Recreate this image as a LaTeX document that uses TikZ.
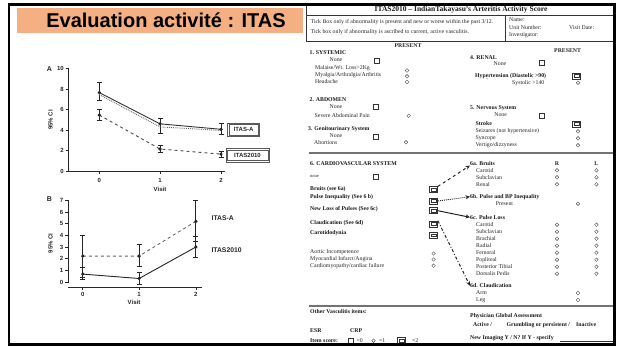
\documentclass[tikz,border=0pt]{standalone}
\usepackage{fontspec}
\setmainfont{Liberation Serif}
\setsansfont{Liberation Sans}
\usetikzlibrary{arrows.meta}
\definecolor{titleorange}{RGB}{244,176,131}
\newcommand\myebar[3]{\draw[eb] (#1,#2) -- (#1,#3); \draw[eb] ({#1-2.5},#2) -- ({#1+2.5},#2); \draw[eb] ({#1-2.5},#3) -- ({#1+2.5},#3);}
\begin{document}
\begin{tikzpicture}[x=1pt,y=-1pt,
  ft/.style={inner sep=0, anchor=west, text=black!85, font=\fontsize{5.8}{7}\selectfont},
  fb/.style={inner sep=0, anchor=west, text=black!90, font=\fontsize{5.8}{7}\selectfont\bfseries},
  fc/.style={inner sep=0, text=black!85, font=\fontsize{5.8}{7}\selectfont},
  sbox/.style={draw=black!80, line width=0.5pt, minimum size=5pt, inner sep=0},
  dbox/.style={draw=black!80, line width=0.5pt, minimum width=8pt, minimum height=6pt, inner sep=0,
    path picture={\draw[black!80, line width=0.4pt] ([shift={(1.6pt,-1.6pt)}]path picture bounding box.north west) rectangle ([shift={(-1.6pt,1.6pt)}]path picture bounding box.south east);}},
  lbox/.style={draw=black!65, line width=0.5pt, inner sep=0,
    path picture={\draw[black!65, line width=0.5pt] ([shift={(1.3pt,-1.3pt)}]path picture bounding box.north west) rectangle ([shift={(-1.3pt,1.3pt)}]path picture bounding box.south east);}},
  circ/.style={circle, draw=black!70, line width=0.4pt, minimum size=3.6pt, inner sep=0},
  sep/.style={draw=black!55, line width=1.6pt},
  ax/.style={line width=0.8pt, black!85},
  tl/.style={font=\sffamily\bfseries\fontsize{6}{7}\selectfont, inner sep=0, text=black!85},
  eb/.style={line width=1pt, black!85},
  arr/.style={line width=1pt, black!85, -{Stealth[length=4.5pt,width=4pt]}}
]
\useasboundingbox (0,0) rectangle (618,347);
\fill[white] (0,0) rectangle (618,347);

% ---------- title ----------
\node[fill=titleorange, minimum width=286pt, minimum height=25pt, anchor=north west, inner sep=0] (tbox) at (17,8) {};
\node[font=\sffamily\bfseries\fontsize{20}{22}\selectfont, inner sep=0] (ttext) at (166,20.5) {Evaluation activité : ITAS};

% ---------- chart A ----------
\draw[ax] (68.5,68.5) -- (68.5,171) -- (224.5,171);
\foreach \v/\yy in {10/68.5,8/89,6/109.5,4/130,2/150.5,0/171}{
  \draw[ax] (65.5,\yy) -- (68.5,\yy);
  \node[tl, anchor=east] (ya\v) at (64,\yy) {\v};
}
\foreach \v/\xx in {0/99.3,1/160,2/221}{
  \draw[ax] (\xx,171) -- (\xx,174);
  \node[tl] (xa\v) at (\xx,180) {\v};
}
\node[tl, font=\sffamily\bfseries\fontsize{7}{8}\selectfont] (labA) at (49.3,69) {A};
\node[tl] (visA) at (160,189) {Visit};
\node[tl, rotate=90] (ciA) at (50.5,120) {95\% CI};
% error bars A
\myebar{99.3}{82.85}{100.3}
\myebar{160}{118.2}{133.1}
\myebar{221}{123.3}{134.6}
\myebar{99.3}{110}{120.8}
\myebar{160}{145.9}{152.6}
\myebar{221}{151.5}{157.2}
% series A
\draw[line width=0.9pt, black!80] (99.3,92.6) -- (160,123.85) -- (221,129.3);
\draw[line width=0.9pt, black!60, densely dotted] (99.3,94.6) -- (160,126.9) -- (221,130.5);
\draw[line width=0.9pt, black!70, dashed] (99.3,115.1) -- (160,149) -- (221,154.1);
\foreach \p in {(99.3,92.6),(160,123.85),(221,129.3),(99.3,115.1),(160,149),(221,154.1)}{
  \fill[black!85] \p circle (1.8);
}
\node[lbox, minimum width=32pt, minimum height=13pt, tl] (itasaA) at (243.6,129.6) {ITAS-A};
\node[lbox, minimum width=43.5pt, minimum height=13.5pt, tl] (itas10A) at (247.5,155.3) {ITAS2010};

% ---------- chart B ----------
\draw[ax] (68.2,200.3) -- (68.2,283);
\draw[ax] (68.2,287.3) -- (201.8,287.3);
\foreach \v/\yy in {7/200.3,6/212,5/223.65,4/235.3,3/247,2/258.7,1/270.3,0/282}{
  \draw[ax] (65.2,\yy) -- (68.2,\yy);
  \node[tl, anchor=east] (yb\v) at (63.5,\yy) {\v};
}
\foreach \v/\xx in {0/82.8,1/139.1,2/195.9}{
  \draw[ax] (\xx,287.3) -- (\xx,290.3);
  \node[tl] (xb\v) at (\xx,294.5) {\v};
}
\node[tl, font=\sffamily\bfseries\fontsize{7}{8}\selectfont] (labB) at (49.3,198.7) {B};
\node[tl] (visB) at (134,302.7) {Visit};
\node[tl, rotate=90] (ciB) at (50.5,243.3) {95\% CI};
\myebar{82.8}{235.3}{277.3}
\myebar{139.1}{244.7}{266.8}
\myebar{195.9}{200.9}{241.7}
\myebar{82.8}{268}{279.7}
\myebar{139.1}{272.7}{284.3}
\myebar{195.9}{236.5}{257.5}
\draw[line width=0.9pt, black!60, dashed] (82.8,256.1) -- (139.1,256.1) -- (195.9,221.3);
\draw[line width=0.9pt, black!85] (82.8,274.1) -- (139.1,278.5) -- (195.9,247);
\foreach \p in {(82.8,256.1),(139.1,256.1),(195.9,221.3),(82.8,274.1),(139.1,278.5),(195.9,247)}{
  \fill[black!85] \p circle (1.8);
}
\node[tl, font=\sffamily\bfseries\fontsize{6.8}{8}\selectfont] (itasaB) at (222.7,218.3) {ITAS-A};
\node[tl, font=\sffamily\bfseries\fontsize{6.8}{8}\selectfont] (itas10B) at (226.6,250) {ITAS2010};

% ---------- form header ----------
\draw[black!80, line width=0.6pt] (306.5,5) rectangle (614,41);
\draw[black!80, line width=0.6pt] (306.5,15) -- (614,15);
\draw[black!80, line width=0.6pt] (505.5,15) -- (505.5,41);
\node[inner sep=0, text=black!90, font=\fontsize{7.5}{8}\selectfont\bfseries] (ftitle) at (461,10) {ITAS2010 -- IndianTakayasu's Arteritis Activity Score};
\node[ft] (tick1) at (310.5,22) {Tick Box only if abnormality is present and new or worse within the past 3/12.};
\node[ft] (tick2) at (310.5,32.5) {Tick box only if abnormality is ascribed to current, active vasculitis.};
\node[ft] (name) at (509,19.5) {Name:};
\node[ft] (unit) at (509,27.5) {Unit Number:};
\node[ft] (vdate) at (569,27.5) {Visit Date:};
\node[ft] (invest) at (509,35.5) {Investigator:};

% ---------- left column ----------
\node[fc, font=\fontsize{5.8}{7}\selectfont\bfseries] (pres1) at (408,46) {PRESENT};
\node[fb] (sys) at (309.5,52.7) {1. SYSTEMIC};
\node[fc] (none1) at (336,59.3) {None};
\node[sbox] (bnone1) at (377,60.3) {};
\node[ft] (mal) at (315,68) {Malaise/Wt. Loss>2Kg};
\node[ft] (mya) at (315,75) {Myalgia/Arthralgia/Arthritis};
\node[ft] (head) at (315,82) {Headache};
\node[circ] (c1) at (407,70.5) {};
\node[circ] (c2) at (407,76.3) {};
\node[circ] (c3) at (407,82) {};

\node[fb] (abd) at (309.5,100) {2. ABDOMEN};
\node[fc] (none2) at (336,106.7) {None};
\node[sbox] (bnone2) at (375.6,107) {};
\node[ft] (sev) at (314.5,115.7) {Severe Abdominal Pain};
\node[circ] (c4) at (408.7,115.7) {};

\node[fb] (gen) at (308,129) {3. Genitourinary System};
\node[fc] (none3) at (336,135.7) {None};
\node[sbox] (bnone3) at (375.6,136.3) {};
\node[ft] (abo) at (314,142.3) {Abortions};
\node[circ] (c5) at (406,142.3) {};

% ---------- right column ----------
\node[fc, font=\fontsize{5.8}{7}\selectfont\bfseries] (pres2) at (567.6,50.7) {PRESENT};
\node[fb] (ren) at (470,57.3) {4. RENAL};
\node[fc] (none4) at (500,63.7) {None};
\node[sbox] (bnone4) at (542,62.3) {};
\node[fb] (hyp) at (475,76) {Hypertension (Diastolic >90)};
\node[dbox] (bhyp) at (576.7,76) {};
\node[ft, font=\fontsize{4}{5}\selectfont] (quo) at (486,80.5) {''};
\node[ft] (sysb) at (512,82.7) {Systolic >140};
\node[circ] (c6) at (578,82.7) {};

\node[fb] (nerv) at (470,108.3) {5. Nervous System};
\node[fc] (none5) at (500.6,114.7) {None};
\node[sbox] (bnone5) at (542,115.7) {};
\node[fb] (stroke) at (475.4,124) {Stroke};
\node[dbox] (bstroke) at (576.7,124) {};
\node[ft] (seiz) at (475.4,131.3) {Seizures (not hypertensive)};
\node[circ] (c7) at (578,131.3) {};
\node[ft] (sync) at (475.4,138.3) {Syncope};
\node[circ] (c8) at (578,138.3) {};
\node[ft] (vert) at (475.4,145.3) {Vertigo/dizzyness};
\node[circ] (c9) at (578,145.3) {};

\draw[sep] (309,153.3) -- (614,153.3);

% ---------- cardiovascular ----------
\node[fb] (cardio) at (310,163.3) {6. CARDIOVASCULAR SYSTEM};
\node[ft, font=\fontsize{4.5}{5}\selectfont] (none6) at (310,176.3) {none};
\node[sbox] (bnone6) at (375.6,176.3) {};
\node[fb] (bruits) at (310,189) {Bruits (see 6a)};
\node[dbox] (bruitsbox) at (433.6,189.7) {};
\node[fb] (pulse) at (310,197.3) {Pulse Inequality (See 6 b)};
\node[dbox] (pulsebox) at (433.6,201) {};
\node[fb] (loss) at (310,209.3) {New Loss of Pulses (See 6c)};
\node[dbox] (lossbox) at (433.6,210.7) {};
\node[fb] (claud) at (310,222.7) {Claudication (See 6d)};
\node[dbox] (claudbox) at (433.6,224) {};
\node[fb] (carot) at (310,233.3) {Carotidodynia};
\node[dbox] (carotbox) at (433.6,235.3) {};
\node[ft] (aort) at (310,252.3) {Aortic Incompetence};
\node[ft] (myoc) at (310,259.3) {Myocardial Infarct/Angina};
\node[ft] (cmyo) at (310,266.3) {Cardiomyopathy/cardiac failure};
\node[circ] (c10) at (433.6,253.5) {};
\node[circ] (c11) at (433.6,259.5) {};
\node[circ] (c12) at (433.6,265.7) {};

\node[fb] (h6a) at (470,163.3) {6a. Bruits};
\node[fc, font=\fontsize{5.8}{7}\selectfont\bfseries] (colR) at (557,163.3) {R};
\node[fc, font=\fontsize{5.8}{7}\selectfont\bfseries] (colL) at (596.4,163.3) {L};
\foreach \t/\yy [count=\i] in {Carotid/170.3,Subclavian/177.3,Renal/184.3}{
  \node[ft] (a\i) at (476,\yy) {\t};
  \node[circ] (ar\i) at (557,\yy) {};
  \node[circ] (al\i) at (596.4,\yy) {};
}
\node[fb] (h6b) at (470,196.7) {6b. Pulse and BP Inequality};
\node[fc] (present6b) at (504.5,203.7) {Present};
\node[circ] (c6b) at (578,203.7) {};
\node[fb] (h6c) at (470,217.3) {6c. Pulse Loss};
\foreach \t/\yy [count=\i] in {Carotid/224.7,Subclavian/231.7,Brachial/238.7,Radial/245.7,Femoral/252.7,Popliteal/259.7,Posterior Tibial/266.7,Dorsalis Pedis/273.7}{
  \node[ft] (pl\i) at (476,\yy) {\t};
  \node[circ] (plr\i) at (557,\yy) {};
  \node[circ] (pll\i) at (596.4,\yy) {};
}
\node[fb] (h6d) at (470,286) {6d. Claudication};
\node[ft] (arm) at (476,293) {Arm};
\node[circ] (carm) at (578,293) {};
\node[ft] (leg) at (476,300) {Leg};
\node[circ] (cleg) at (578,300) {};

\draw[arr, dashed] (bruitsbox.north east) -- (h6a.south west);
\draw[arr, densely dotted, line width=0.9pt] (pulsebox.east) -- (h6b.west);
\draw[arr] (lossbox.east) -- (h6c.west);
\draw[arr, dash dot] (claudbox.north east) -- ([yshift=-2pt]h6d.north west);

\draw[sep] (309,306) -- (614,306);

% ---------- bottom ----------
\node[fb] (other) at (310,311.7) {Other Vasculitis items:};
\node[fb] (phys) at (470,315.7) {Physician Global Assessment};
\node[fb] (active) at (473,324.7) {Active /};
\node[fb] (grumb) at (506.5,324.7) {Grumbling or persistent /};
\node[fb] (inact) at (576,324.7) {Inactive};
\node[fb] (esr) at (310,331) {ESR};
\node[fb] (crp) at (350,331) {CRP};
\node[fb] (item) at (310,340.7) {Item score:};
\node[sbox] (k0) at (350.4,340.7) {};
\node[ft] (k0t) at (356.5,340.7) {=0};
\node[circ] (k1) at (373.5,340.7) {};
\node[ft] (k1t) at (379,340.7) {=1};
\node[dbox] (k2) at (401.7,340.7) {};
\node[ft] (k2t) at (412,340.7) {=2};
\node[fb] (newimg) at (470,337.7) {New Imaging Y / N? If Y - specify};
\coordinate (ulA) at (560,341);
\coordinate (ulB) at (614,341);
\draw[black!80, line width=0.5pt] (ulA) -- (ulB);

% ---------- frame ----------
\draw[black, line width=2.6pt] (9,4.3) rectangle (614.5,344.5);
\end{tikzpicture}
\end{document}
